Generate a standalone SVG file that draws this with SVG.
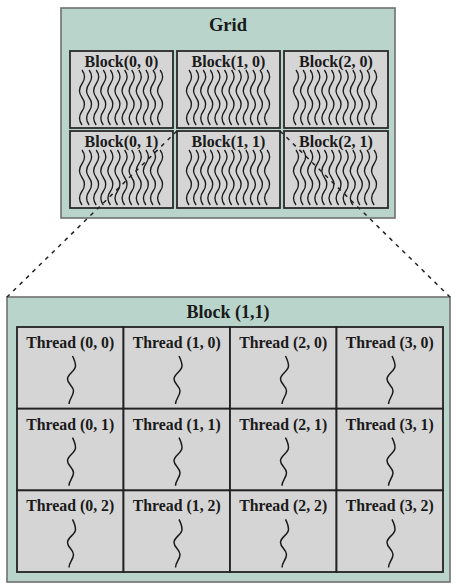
<svg xmlns="http://www.w3.org/2000/svg" width="456" height="586" viewBox="0 0 456 586">
<style>
.outer{fill:#b9d5cb;stroke:#707070;stroke-width:1.6}
.blk{fill:#d5d5d5;stroke:#2a2a2a;stroke-width:1.8}
.cell{fill:#d5d5d5;stroke:#222;stroke-width:1.8}
.t{font-family:"Liberation Serif","Times New Roman",serif;font-weight:bold;fill:#1a1a1a;text-anchor:middle}
.title{font-size:18.5px}
.bl{font-size:16px}
.th{font-size:15.8px}
.w{fill:none;stroke:#1a1a1a;stroke-width:1.3}
.sq{fill:none;stroke:#1a1a1a;stroke-width:1.5}
.conn{fill:none;stroke:#222;stroke-width:1.5;stroke-dasharray:4 5}
</style>
<defs>
<g id="waves" class="w">
<path d="M0 0q5 6.875 0 13.75t0 13.75t0 13.75t0 13.75"/>
<path d="M7.1 0q5 6.875 0 13.75t0 13.75t0 13.75t0 13.75"/>
<path d="M14.2 0q5 6.875 0 13.75t0 13.75t0 13.75t0 13.75"/>
<path d="M21.3 0q5 6.875 0 13.75t0 13.75t0 13.75t0 13.75"/>
<path d="M28.4 0q5 6.875 0 13.75t0 13.75t0 13.75t0 13.75"/>
<path d="M35.5 0q5 6.875 0 13.75t0 13.75t0 13.75t0 13.75"/>
<path d="M42.6 0q5 6.875 0 13.75t0 13.75t0 13.75t0 13.75"/>
<path d="M49.7 0q5 6.875 0 13.75t0 13.75t0 13.75t0 13.75"/>
<path d="M56.8 0q5 6.875 0 13.75t0 13.75t0 13.75t0 13.75"/>
<path d="M63.9 0q5 6.875 0 13.75t0 13.75t0 13.75t0 13.75"/>
<path d="M71 0q5 6.875 0 13.75t0 13.75t0 13.75t0 13.75"/>
<path d="M78.1 0q5 6.875 0 13.75t0 13.75t0 13.75t0 13.75"/>
</g>
<path id="sq" class="sq" d="M2.5 0C4 3 5.5 6 5.5 10C5.5 15 -2.5 18 -2.5 23C-2.5 28 3.5 30 3.5 35C3.5 40 -1 43 -1 48"/>
</defs>

<g id="grid">
<rect class="outer" x="61" y="8" width="334" height="210"/>
<text class="t title" x="228" y="31">Grid</text>
</g>
<g id="block-0-0">
<rect class="blk" x="70" y="51" width="103" height="77"/>
<text class="t bl" x="121.5" y="67">Block(0, 0)</text>
<use href="#waves" x="82" y="70"/>
</g>
<g id="block-1-0">
<rect class="blk" x="177" y="51" width="103" height="77"/>
<text class="t bl" x="228.5" y="67">Block(1, 0)</text>
<use href="#waves" x="189" y="70"/>
</g>
<g id="block-2-0">
<rect class="blk" x="284" y="51" width="104" height="77"/>
<text class="t bl" x="336" y="67">Block(2, 0)</text>
<use href="#waves" x="296" y="70"/>
</g>
<g id="block-0-1">
<rect class="blk" x="70" y="131" width="103" height="77"/>
<text class="t bl" x="121.5" y="147">Block(0, 1)</text>
<use href="#waves" x="82" y="150"/>
</g>
<g id="block-1-1">
<rect class="blk" x="177" y="131" width="103" height="77"/>
<text class="t bl" x="228.5" y="147">Block(1, 1)</text>
<use href="#waves" x="189" y="150"/>
</g>
<g id="block-2-1">
<rect class="blk" x="284" y="131" width="104" height="77"/>
<text class="t bl" x="336" y="147">Block(2, 1)</text>
<use href="#waves" x="296" y="150"/>
</g>

<g id="block-detail">
<rect class="outer" x="7" y="297" width="443" height="285"/>
<text class="t" style="font-size:18px" x="228" y="318">Block (1,1)</text>
</g>

<g id="thread-0-0"><rect class="cell" x="17" y="327" width="106.5" height="81.7"/><text class="t th" x="70.25" y="348">Thread (0, 0)</text><use href="#sq" x="70" y="356"/></g>
<g id="thread-1-0"><rect class="cell" x="123.5" y="327" width="106.5" height="81.7"/><text class="t th" x="176.75" y="348">Thread (1, 0)</text><use href="#sq" x="176.5" y="356"/></g>
<g id="thread-2-0"><rect class="cell" x="230" y="327" width="106.5" height="81.7"/><text class="t th" x="283.25" y="348">Thread (2, 0)</text><use href="#sq" x="283" y="356"/></g>
<g id="thread-3-0"><rect class="cell" x="336.5" y="327" width="106.5" height="81.7"/><text class="t th" x="389.75" y="348">Thread (3, 0)</text><use href="#sq" x="389.5" y="356"/></g>

<g id="thread-0-1"><rect class="cell" x="17" y="408.7" width="106.5" height="81.7"/><text class="t th" x="70.25" y="429.7">Thread (0, 1)</text><use href="#sq" x="70" y="437.7"/></g>
<g id="thread-1-1"><rect class="cell" x="123.5" y="408.7" width="106.5" height="81.7"/><text class="t th" x="176.75" y="429.7">Thread (1, 1)</text><use href="#sq" x="176.5" y="437.7"/></g>
<g id="thread-2-1"><rect class="cell" x="230" y="408.7" width="106.5" height="81.7"/><text class="t th" x="283.25" y="429.7">Thread (2, 1)</text><use href="#sq" x="283" y="437.7"/></g>
<g id="thread-3-1"><rect class="cell" x="336.5" y="408.7" width="106.5" height="81.7"/><text class="t th" x="389.75" y="429.7">Thread (3, 1)</text><use href="#sq" x="389.5" y="437.7"/></g>

<g id="thread-0-2"><rect class="cell" x="17" y="490.4" width="106.5" height="81.6"/><text class="t th" x="70.25" y="511.4">Thread (0, 2)</text><use href="#sq" x="70" y="519.4"/></g>
<g id="thread-1-2"><rect class="cell" x="123.5" y="490.4" width="106.5" height="81.6"/><text class="t th" x="176.75" y="511.4">Thread (1, 2)</text><use href="#sq" x="176.5" y="519.4"/></g>
<g id="thread-2-2"><rect class="cell" x="230" y="490.4" width="106.5" height="81.6"/><text class="t th" x="283.25" y="511.4">Thread (2, 2)</text><use href="#sq" x="283" y="519.4"/></g>
<g id="thread-3-2"><rect class="cell" x="336.5" y="490.4" width="106.5" height="81.6"/><text class="t th" x="389.75" y="511.4">Thread (3, 2)</text><use href="#sq" x="389.5" y="519.4"/></g>

<g id="connectors">
<line class="conn" x1="177" y1="131" x2="7" y2="297"/>
<line class="conn" x1="280" y1="131" x2="450" y2="297"/>
</g>
</svg>
